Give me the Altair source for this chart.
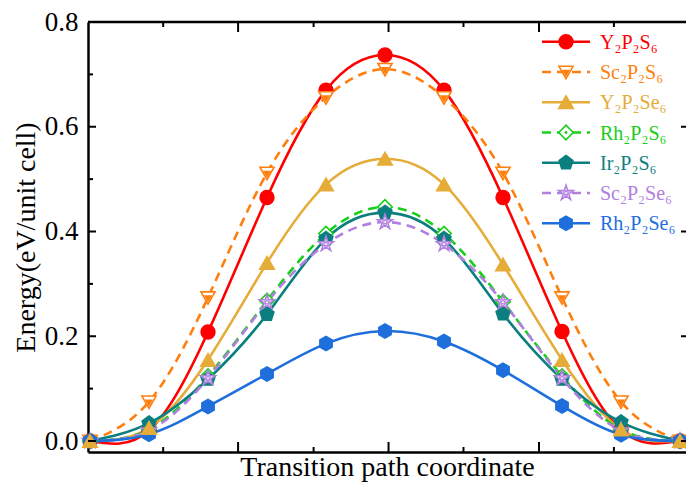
import altair as alt
import pandas as pd

# ---------------- data ----------------
names = ["Y₂P₂S₆", "Sc₂P₂S₆", "Y₂P₂Se₆", "Rh₂P₂S₆", "Ir₂P₂S₆", "Sc₂P₂Se₆", "Rh₂P₂Se₆"]
path_index = [0, 1, 2, 3, 4, 5, 6, 7, 8, 9, 10]
y2p2s6 = [0.0, 0.020, 0.208, 0.465, 0.670, 0.737, 0.670, 0.465, 0.209, 0.021, 0.0]
sc2p2s6 = [0.0, 0.075, 0.274, 0.512, 0.656, 0.710, 0.656, 0.512, 0.274, 0.075, 0.0]
y2p2se6 = [0.0, 0.025, 0.155, 0.340, 0.490, 0.539, 0.490, 0.337, 0.155, 0.022, 0.0]
rh2p2s6 = [0.0, 0.022, 0.124, 0.268, 0.396, 0.447, 0.396, 0.266, 0.124, 0.022, 0.0]
ir2p2s6 = [0.0, 0.034, 0.118, 0.242, 0.386, 0.436, 0.386, 0.243, 0.118, 0.036, 0.0]
sc2p2se6 = [0.0, 0.020, 0.120, 0.265, 0.376, 0.418, 0.376, 0.265, 0.120, 0.020, 0.0]
rh2p2se6 = [0.0, 0.013, 0.066, 0.128, 0.186, 0.210, 0.190, 0.135, 0.067, 0.012, 0.0]
series_values = [y2p2s6, sc2p2s6, y2p2se6, rh2p2s6, ir2p2s6, sc2p2se6, rh2p2se6]

y_major = [0.0, 0.2, 0.4, 0.6, 0.8]
y_minor = [0.1, 0.3, 0.5, 0.7]
x_major = [2.51, 5.06, 7.61]
x_minor = [1.24, 3.79, 6.33, 8.88]

# ---------------- style ----------------
FONT = "Liberation Serif"
W, H = 598, 430
colors = ["#FF0000", "#FF7F0E", "#E6AC38", "#18CF18", "#0B7F7F", "#B07FE0", "#1E6FDC"]
dashes = [None, [9, 6], None, [9, 6], None, [9, 6], None]
PENT = "M0,-1L0.951,-0.309L0.588,0.809L-0.588,0.809L-0.951,-0.309Z"
HEX = "M0,-1L0.866,-0.5L0.866,0.5L0,1L-0.866,0.5L-0.866,-0.5Z"
STAR = ("M0,-1L0.225,-0.309L0.951,-0.309L0.363,0.118L0.588,0.809L0,0.382"
        "L-0.588,0.809L-0.363,0.118L-0.951,-0.309L-0.225,-0.309Z")
TRI_DOWN = "M-1,-0.8L1,-0.8L0,0.95Z"
TRI_DOWN_IN = "M-0.58,-0.3L0.58,-0.3L0,0.72Z"
shapes = ["circle", TRI_DOWN, "triangle-up", "diamond", PENT, STAR, HEX]
fills = ["#FF0000", "white", "#E6AC38", "white", "#0B7F7F", "white", "#1E6FDC"]
sizes = [190, 200, 210, 210, 210, 240, 200]

xscale = alt.Scale(domain=[-0.0339, 10.1017], nice=False, zero=False)
yscale = alt.Scale(domain=[-0.021, 0.8], nice=False, zero=False)
X = alt.X("x:Q", scale=xscale,
          axis=alt.Axis(title="Transition path coordinate", labels=False, ticks=False,
                        grid=False, domainColor="black", domainWidth=2.5,
                        titleFont=FONT, titleFontSize=28, titleFontWeight="normal",
                        titleColor="black", titlePadding=1))
Y = alt.Y("y:Q", scale=yscale,
          axis=alt.Axis(title="Energy(eV/unit cell)", values=y_major, format=".1f",
                        ticks=False, grid=False, domainColor="black", domainWidth=2.5,
                        labelFont=FONT, labelFontSize=27, labelFontWeight="normal",
                        labelColor="black", labelPadding=10,
                        titleFont=FONT, titleFontSize=28, titleFontWeight="normal",
                        titleColor="black", titlePadding=4))

main_layers = []
point_layers = []
for i, name in enumerate(names):
    df = pd.DataFrame({"x": path_index, "y": series_values[i], "series": name})
    lk = dict(interpolate="natural", color=colors[i], strokeWidth=2.6)
    if dashes[i]:
        lk["strokeDash"] = dashes[i]
    main_layers.append(alt.Chart(df).mark_line(**lk).encode(x=X, y=Y))
    pts = [alt.Chart(df).mark_point(shape=shapes[i], filled=True, fill=fills[i],
                                    stroke=colors[i], strokeWidth=1.6, size=sizes[i],
                                    opacity=1).encode(x=X, y=Y)]
    if i == 1:
        pts.append(alt.Chart(df).mark_point(shape=TRI_DOWN_IN, filled=True, fill=colors[i],
                                            strokeWidth=0, size=sizes[i], opacity=1).encode(x=X, y=Y))
    if i == 3:
        pts.append(alt.Chart(df).mark_point(shape="circle", filled=True, fill=colors[i],
                                            strokeWidth=0, size=8, opacity=1).encode(x=X, y=Y))
    if i == 5:
        pts.append(alt.Chart(df).mark_point(shape=STAR, filled=False, stroke=colors[i],
                                            strokeWidth=1, size=35, opacity=1).encode(x=X, y=Y))
    point_layers.append(pts)

draw_order = [0, 1, 3, 4, 5, 6, 2]
for i in draw_order:
    main_layers.extend(point_layers[i])

# frame & inward ticks
xt_major = pd.DataFrame({"x": x_major})
xt_minor = pd.DataFrame({"x": x_minor})
yt_major = pd.DataFrame({"y": y_major})
yt_minor = pd.DataFrame({"y": y_minor})
tick = dict(color="black", strokeWidth=2)
main_layers += [
    alt.Chart(xt_major).mark_rule(**tick).encode(x=X, y=alt.value(H), y2=alt.value(H - 10)),
    alt.Chart(xt_minor).mark_rule(**tick).encode(x=X, y=alt.value(H), y2=alt.value(H - 5)),
    alt.Chart(xt_major).mark_rule(**tick).encode(x=X, y=alt.value(0), y2=alt.value(10)),
    alt.Chart(xt_minor).mark_rule(**tick).encode(x=X, y=alt.value(0), y2=alt.value(5)),
    alt.Chart(yt_major).mark_rule(**tick).encode(y=Y, x=alt.value(0), x2=alt.value(8)),
    alt.Chart(yt_minor).mark_rule(**tick).encode(y=Y, x=alt.value(0), x2=alt.value(5)),
    alt.Chart(yt_major).mark_rule(**tick).encode(y=Y, x=alt.value(W - 5), x2=alt.value(W)),
    alt.Chart(yt_major.head(1)).mark_rule(color="black", strokeWidth=2.5).encode(
        x=alt.value(0), x2=alt.value(W), y=alt.value(0)),
]
main = alt.layer(*main_layers)

# ---------------- custom legend ----------------
LY = alt.Y("row:Q", scale=alt.Scale(domain=[0, 6], range=[19.7, 201.3]), axis=None)
leg_layers = []
for i, name in enumerate(names):
    ld = pd.DataFrame({"row": [i], "label": [name]})
    rk = dict(color=colors[i], strokeWidth=2.6)
    if dashes[i]:
        rk["strokeDash"] = dashes[i]
    leg_layers.append(alt.Chart(ld).mark_rule(**rk).encode(
        y=LY, x=alt.value(454), x2=alt.value(502)))
    leg_layers.append(alt.Chart(ld).mark_point(shape=shapes[i], filled=True, fill=fills[i],
                                               stroke=colors[i], strokeWidth=1.6, size=sizes[i],
                                               opacity=1).encode(y=LY, x=alt.value(478)))
    if i == 1:
        leg_layers.append(alt.Chart(ld).mark_point(shape=TRI_DOWN_IN, filled=True, fill=colors[i],
                                                   strokeWidth=0, size=sizes[i], opacity=1)
                          .encode(y=LY, x=alt.value(478)))
    if i == 3:
        leg_layers.append(alt.Chart(ld).mark_point(shape="circle", filled=True, fill=colors[i],
                                                   strokeWidth=0, size=8, opacity=1)
                          .encode(y=LY, x=alt.value(478)))
    if i == 5:
        leg_layers.append(alt.Chart(ld).mark_point(shape=STAR, filled=False, stroke=colors[i],
                                                   strokeWidth=1, size=35, opacity=1)
                          .encode(y=LY, x=alt.value(478)))
    leg_layers.append(alt.Chart(ld).mark_text(align="left", baseline="middle", font=FONT,
                                              fontSize=20, color=colors[i], dy=1)
                      .encode(y=LY, x=alt.value(512), text="label:N"))
legend = alt.layer(*leg_layers)

chart = (
    alt.layer(main, legend)
    .resolve_scale(x="independent", y="independent")
    .properties(width=W, height=H, autosize="none",
                padding={"left": 88, "top": 22, "right": 0, "bottom": 38},
                background="white")
    .configure_view(stroke=None)
)

chart.save("out.html", embed_options={"renderer": "svg", "actions": False})
